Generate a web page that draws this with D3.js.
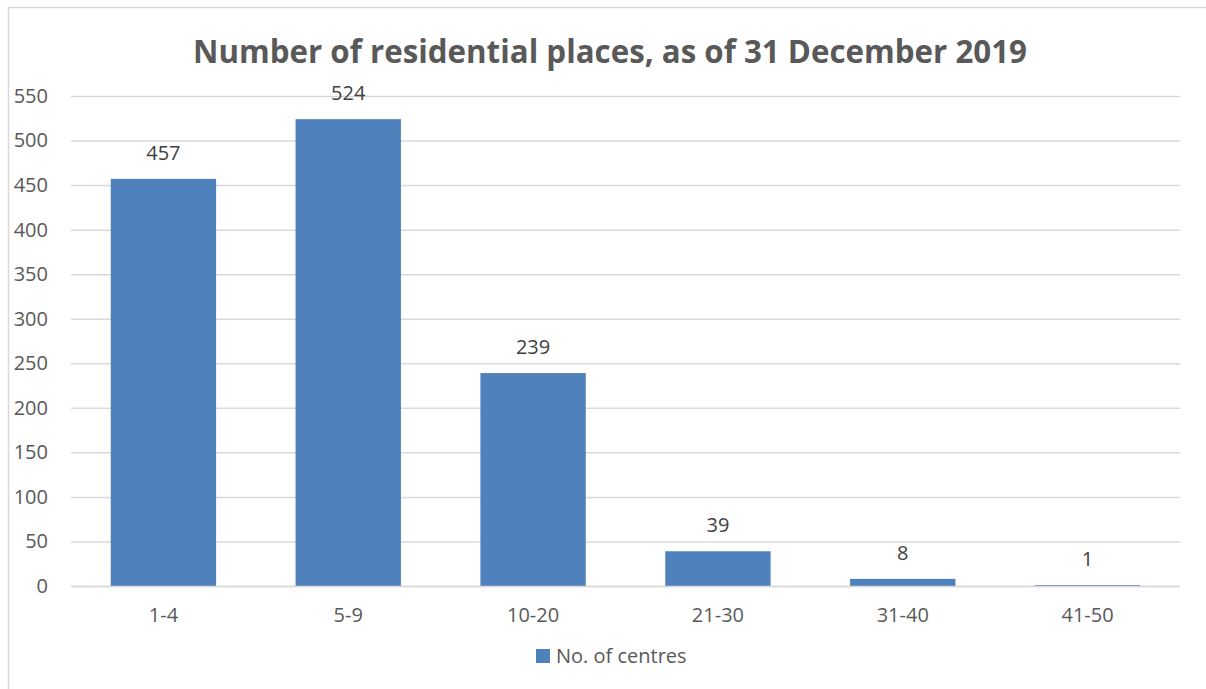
<!DOCTYPE html>
<html><head><meta charset="utf-8">
<script src="https://cdn.jsdelivr.net/npm/d3@7"></script>
<style>body{margin:0;background:#fff}svg{display:block}</style>
</head><body>
<svg id="c" width="1206" height="689"></svg>
<script>
const categories = ["1-4","5-9","10-20","21-30","31-40","41-50"];
const values = [457,524,239,39,8,1];
const yTicks = [0,50,100,150,200,250,300,350,400,450,500,550];
const seriesName = "No. of centres";
const title = "Number of residential places, as of 31 December 2019";

(function(){
const svg = d3.select("#c");
const font = "'Open Sans', 'Noto Sans', sans-serif";
svg.append("rect").attr("x",8.5).attr("y",7.5).attr("width",1210).attr("height",700)
  .attr("fill","#fff").attr("stroke","#d9d9d9").attr("stroke-width",1.5);

const mLeft = 71, mRight = 1180, mTop = 96, mBottom = 586;
const x = d3.scaleBand().domain(categories).range([mLeft,mRight]).paddingInner(0.43).paddingOuter(0.215);
const y = d3.scaleLinear().domain([0,550]).range([mBottom,mTop]);

svg.append("text").attr("x",610).attr("y",63).attr("text-anchor","middle")
  .attr("font-family",font).attr("font-weight","bold").attr("font-size",32)
  .attr("fill","#595959").attr("textLength",834).attr("lengthAdjust","spacingAndGlyphs").text(title);

const yAxis = d3.axisLeft(y).tickValues(yTicks).tickSize(-(mRight-mLeft)).tickPadding(23);
const gy = svg.append("g").attr("transform",`translate(${mLeft},0)`).call(yAxis);
gy.select(".domain").remove();
gy.selectAll(".tick line").attr("stroke","#d9d9d9").attr("stroke-width",1.5);
gy.selectAll(".tick text").attr("font-family",font).attr("font-size",20).attr("fill","#595959");

svg.append("g").selectAll("rect").data(values).join("rect")
  .attr("x",(d,i)=>x(categories[i])).attr("width",x.bandwidth())
  .attr("y",d=>y(d)).attr("height",d=>mBottom-y(d)).attr("fill","#4F81BD");

svg.append("g").selectAll("text").data(values).join("text")
  .attr("x",(d,i)=>x(categories[i])+x.bandwidth()/2).attr("y",d=>y(d)-19)
  .attr("text-anchor","middle").attr("font-family",font).attr("font-size",20).attr("fill","#404040")
  .text(d=>d);

const xAxis = d3.axisBottom(x).tickSize(0).tickPadding(22);
const gx = svg.append("g").attr("transform",`translate(0,${mBottom})`).call(xAxis);
gx.select(".domain").attr("stroke","#d9d9d9").attr("stroke-width",1.5);
gx.selectAll(".tick text").attr("font-family",font).attr("font-size",20).attr("fill","#595959");

const lg = svg.append("g");
lg.append("rect").attr("x",536).attr("y",649).attr("width",14).attr("height",14).attr("fill","#4F81BD");
lg.append("text").attr("x",556).attr("y",663).attr("font-family",font).attr("font-size",20).attr("fill","#595959").text(seriesName);
})();
</script>
</body></html>
